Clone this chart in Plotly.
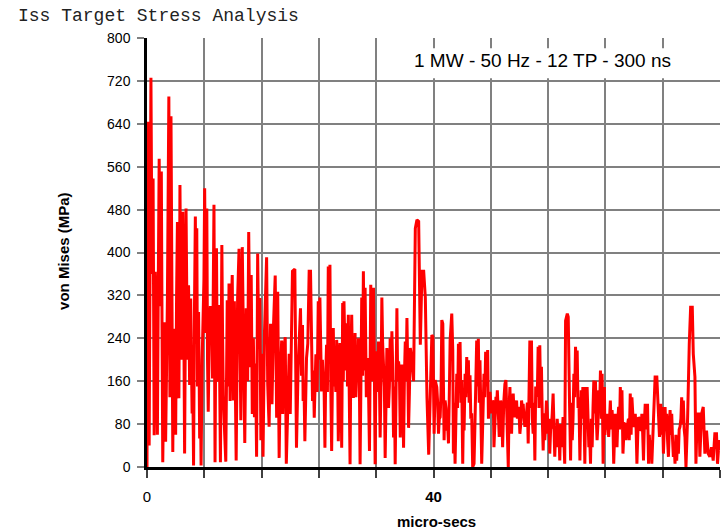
import plotly.graph_objects as go

# ---- data (micro-secs, von Mises MPa) ----
tA = [0.00,0.05,0.10,0.20,0.30,0.55,0.70,0.85,1.00,1.15,1.30,1.45,1.70,1.85,2.00,2.20,2.45,2.60,2.85,3.05,
      3.20,3.35,3.60,3.80,4.00,4.25,4.45,4.60,4.80,5.00,5.25,5.45,5.65,5.80,5.95,6.10,6.30,6.50,6.75,6.95,
      7.05,7.20,7.35,7.55,7.85,8.05,8.20,8.35,8.55,8.70,9.00,9.15,9.35,9.50,9.70,9.85,10.05,10.25,10.45,10.65]
vA = [0,400,60,644,40,726,360,538,59,364,264,60,575,300,551,9,270,47,314,691,
      130,654,28,258,60,457,128,526,200,476,25,482,200,339,153,314,100,3,467,445,
      150,289,53,3,270,520,250,482,103,258,240,165,489,9,408,159,302,9,414,134]
# mid-band samples of the first 10 us
tA2 = [1.08,1.38,1.58,1.93,2.10,2.33,2.53,2.73,3.13,3.48,3.70,3.90,4.13,4.35,4.53,4.70,4.90,5.13,5.35,5.55,
       5.73,5.88,6.03,6.20,6.40,6.63,6.85,7.13,7.28,7.45,7.70,7.95,8.13,8.28,8.45,8.63,8.85,9.08,9.25,9.43,
       9.60,9.78,9.95,10.15,10.35,10.55]
vA2 = [200,180,350,420,260,150,200,180,300,250,200,160,320,250,300,350,260,300,250,330,
       280,240,230,200,150,300,260,230,180,150,200,350,350,300,200,180,300,240,300,220,
       250,240,200,160,200,250]

tB = [10.85,11.00,11.20,11.35,11.45,11.60,11.75,11.90,12.05,12.20,12.45,12.65,12.85,13.00,13.10,13.30,13.45,13.65,13.85,14.05,
      14.20,14.40,14.55,14.70,14.85,15.00,15.15,15.30,15.45,15.60,15.75,15.90,16.05,16.20,16.40,16.70,16.85,17.05,17.25,17.45,
      17.65,17.90,18.10,18.25,18.45,18.60,18.80,18.95,19.10,19.30,19.45,19.65,19.85,20.00,20.20]
vB = [60,10,311,150,342,123,280,358,124,309,12,315,407,249,87,410,200,45,296,160,
      438,186,358,99,240,93,193,19,398,220,315,50,211,19,250,391,155,75,267,117,
      259,357,92,327,17,160,236,99,216,242,6,129,211,99,280]

tC = [20.31,20.64,20.87,21.10,21.43,21.71,21.80,22.04,22.27,22.64,22.83,23.11,23.35,23.58,23.91,24.14,24.37,24.61,24.84,25.07,
      25.31,25.54,25.78,26.01,26.24,26.48,26.71,26.94,27.18,27.32,27.50,27.88,28.11,28.35,28.58,28.81,29.05,29.28,29.51,29.75,
      29.98,30.21,30.45,30.78,31.06,31.24,31.62,31.85,32.08,32.32,32.55,32.79,33.02,33.25,33.49,33.72,33.95,34.19,34.42,34.65,
      34.89,35.12,35.36,35.59,35.82,36.06,36.29,36.52,36.76,37.22,37.46,37.69,37.93,38.16,38.39,38.63,38.86,39.09,39.33,39.56]
vC = [365,369,36,185,296,265,123,48,203,365,365,123,92,210,309,316,141,147,36,228,
      374,377,30,259,191,237,48,231,36,306,309,268,284,5,284,129,250,179,240,5,
      316,365,334,203,30,340,334,5,216,234,55,316,185,17,222,110,240,253,55,5,
      296,197,55,191,36,234,278,73,222,160,445,461,458,228,365,365,316,129,23,154]
# mid-band samples between 21.5 and 37 us
tC2 = [21.57,21.92,22.15,22.45,22.97,23.23,23.46,23.75,24.02,24.25,24.49,24.72,24.95,25.19,25.42,25.66,25.90,26.12,26.36,26.60,
       26.82,27.06,27.41,27.69,27.99,28.23,28.46,28.70,28.93,29.16,29.40,29.63,29.87,30.10,30.33,30.62,30.92,31.15,31.43,31.73,
       31.96,32.20,32.44,32.67,32.90,33.14,33.37,33.60,33.84,34.07,34.30,34.54,34.77,35.00,35.24,35.47,35.71,35.94,36.17,36.41,
       36.64,36.99]
vC2 = [170,150,120,230,200,180,150,140,200,230,200,150,170,140,200,150,180,150,140,200,
       130,200,160,180,150,180,200,170,160,130,160,190,160,170,180,130,150,180,160,200,
       180,140,170,160,230,150,130,190,150,160,190,150,140,160,180,150,140,170,160,180,
       140,200]

tD = [39.77,39.91,40.09,40.23,40.46,40.70,40.93,41.16,41.30,41.48,41.62,41.86,42.09,42.32,42.55,42.69,42.78,43.01,43.25,43.48,
      43.71,43.94,44.08,44.27,44.41,44.64,44.87,45.10,45.33,45.47,45.66,45.80,46.03,46.26,46.49,46.73,46.86,47.05,47.28,47.56,
      47.79,47.98,48.26,48.44,48.72,48.91,49.18,49.37,49.65,49.97,50.11,50.30,50.44,50.67,50.90,51.13,51.36,51.60,51.83,52.06,
      52.29,52.52,52.76,52.99,53.22,53.45,53.68,53.91,54.15,54.38,54.61,54.84,55.07,55.31,55.54,55.77,56.00,56.23,56.47,56.70,
      56.93,57.16,57.39,57.63,57.86,58.09,58.32]
vD = [246,243,62,162,149,62,93,274,267,50,124,68,44,236,286,218,25,6,174,230,
      233,162,6,68,174,205,199,171,100,0,6,87,236,239,199,6,62,174,215,218,
      112,124,124,37,131,143,56,124,37,155,162,37,0,149,62,137,93,124,112,62,
      124,118,75,100,44,236,236,62,12,131,224,227,187,31,50,124,62,25,75,137,
      19,37,62,12,37,93,6]
# mid-band samples between 40 and 58 us
tD2 = [40.16,40.58,40.81,41.05,41.39,41.55,41.74,41.97,42.20,42.87,43.13,43.36,43.60,43.83,44.18,44.52,44.75,44.98,45.21,45.90,
       46.14,46.38,46.95,47.16,47.42,47.67,47.89,48.12,48.35,48.58,48.81,49.05,49.27,49.51,49.81,50.20,50.55,50.78,51.02,51.25,
       51.48,51.71,51.95,52.18,52.41,52.64,52.87,53.10,53.34,53.57,53.80,54.03,54.27,54.50,54.73,54.96,55.19,55.42,55.66,55.89,
       56.12,56.35,56.58,56.81,57.04,57.27,57.51,57.74,57.97]
vD2 = [110,120,90,140,150,100,110,80,130,120,140,110,150,120,110,130,150,120,90,140,
       150,120,110,130,150,90,140,100,120,90,110,100,90,110,120,100,110,90,120,100,
       110,90,100,80,110,90,100,120,140,110,90,120,150,140,110,120,90,100,80,100,
       90,70,100,80,60,90,70,80,60]

tE = [58.44,58.68,58.81,59.00,59.14,59.37,59.60,59.83,60.06,60.30,60.44,60.62,60.85,60.99,61.13,61.27,61.45,61.69,61.92,62.15,
      62.38,62.61,62.84,63.07,63.31,63.54,63.68,63.86,64.00,64.23,64.46,64.69,64.93,65.16,65.39,65.62,65.85,66.08,66.31,66.45,
      66.64,66.87,67.10,67.33,67.47,67.70,67.94,68.17,68.40,68.63,68.86,69.09,69.32,69.56,69.88,70.02,70.25,70.48,70.71,70.94,
      71.18,71.31,71.55,71.73,71.96,72.10,72.33,72.56,72.80,73.03,73.26,73.49,73.72,73.95,74.19,74.42,74.65,74.88,75.11,75.25,
      75.48,75.71,75.90,76.13,76.27,76.50,76.64,76.82,77.06,77.19,77.43,77.66,77.89,78.12,78.35,78.58,78.81,79.05,79.28,79.51,
      79.65,79.88,79.97]
vE = [273,286,280,112,12,50,174,224,217,130,12,143,149,130,6,149,149,37,6,37,
      161,161,50,143,180,174,6,149,81,99,56,124,106,6,99,37,112,149,143,25,
      81,50,87,50,137,130,75,99,6,93,68,99,12,118,118,6,25,6,99,168,
      168,130,56,118,112,25,112,99,19,106,99,19,6,12,25,75,130,124,56,0,
      93,230,298,298,211,168,6,99,99,19,99,112,25,68,25,19,37,12,62,62,
      6,50,31]
# mid-band samples between 59 and 75 us
tE2 = [59.25,59.48,59.71,59.95,60.18,60.53,60.74,60.92,61.06,61.36,61.57,61.80,62.03,62.27,62.50,62.73,62.96,63.19,63.43,63.77,
       63.93,64.12,64.35,64.58,64.81,65.05,65.28,65.51,65.74,65.97,66.20,66.54,66.76,66.99,67.22,67.59,67.82,68.06,68.29,68.52,
       68.75,68.98,69.21,69.44,69.72,70.13,70.37,70.60,71.44,71.64,71.85,72.21,72.45,72.68,72.92,73.15,73.38,73.61,73.84,74.07,
       74.30,74.54,74.77,75.00]
vE2 = [120,90,130,160,110,80,100,90,60,100,80,60,90,110,100,90,80,110,90,100,
       60,70,80,90,70,80,60,80,90,70,100,60,80,70,90,60,100,80,70,60,
       90,70,60,80,70,60,50,60,90,70,60,80,70,50,70,60,50,40,60,50,
       70,90,80,70]

x_ticks = [0, 8, 16, 24, 32, 40, 48, 56, 64, 72, 80]
x_tick_text = ["0", "", "", "", "", "<b>40</b>", "", "", "", "", "<b>80</b>"]
y_ticks = [0, 80, 160, 240, 320, 400, 480, 560, 640, 720, 800]

title_text = "Iss Target Stress Analysis"
box_text = "1 MW - 50 Hz - 12 TP - 300 ns"
x_title = "micro-secs"
y_title = "von Mises (MPa)"

all_t = tA + tA2 + tB + tC + tC2 + tD + tD2 + tE + tE2
all_v = vA + vA2 + vB + vC + vC2 + vD + vD2 + vE + vE2
assert len(all_t) == len(all_v)
pairs = sorted(zip(all_t, all_v))
time_us = [p[0] for p in pairs]
stress = [p[1] for p in pairs]

fig = go.Figure()
fig.add_trace(go.Scatter(x=time_us, y=stress, mode="lines",
                         line=dict(color="#ff0000", width=3.0),
                         hoverinfo="skip", showlegend=False))

grid = "#808080"
fig.update_layout(
    width=724, height=532,
    margin=dict(l=147, r=4, t=38, b=65),
    paper_bgcolor="white", plot_bgcolor="white",
    font=dict(family="Liberation Sans, Arial, sans-serif", color="black"),
    xaxis=dict(range=[0, 80], tickmode="array", tickvals=x_ticks, ticktext=x_tick_text,
               showgrid=True, gridcolor=grid, gridwidth=1.5, zeroline=False,
               showline=True, linecolor="black", linewidth=3,
               ticks="outside", ticklen=8, tickwidth=1.5, tickcolor="#404040",
               tickfont=dict(size=15, color="black"), ticklabelstandoff=6),
    yaxis=dict(range=[0, 800], tickmode="array", tickvals=y_ticks,
               showgrid=True, gridcolor=grid, gridwidth=1.5, zeroline=False,
               showline=True, linecolor="black", linewidth=2.5,
               ticks="outside", ticklen=7, tickwidth=1.5, tickcolor=grid,
               tickfont=dict(size=14, color="black"), ticklabelstandoff=4),
)

# white box behind the condition text
fig.add_shape(type="rect", xref="x", yref="y", x0=32.15, x1=78.4, y0=725, y1=781,
              fillcolor="white", line=dict(width=0), layer="above")

fig.add_annotation(text=box_text, xref="paper", yref="paper", x=0.6898, y=0.9487,
                   xanchor="center", yanchor="middle", showarrow=False,
                   font=dict(size=19, color="black", family="Liberation Sans, Arial, sans-serif"))
fig.add_annotation(text=title_text, xref="paper", yref="paper", x=-0.2288, y=1.052,
                   xanchor="left", yanchor="middle", showarrow=False,
                   font=dict(size=18, color="#222222", family="Liberation Mono, Courier New, monospace"))
fig.add_annotation(text="<b>" + x_title + "</b>", xref="paper", yref="paper", x=0.5047, y=-0.128,
                   xanchor="center", yanchor="middle", showarrow=False,
                   font=dict(size=15, color="black"))
fig.add_annotation(text="<b>" + y_title + "</b>", xref="paper", yref="paper", x=-0.145, y=0.5035,
                   xanchor="center", yanchor="middle", showarrow=False, textangle=-90,
                   font=dict(size=15, color="black"))

fig.write_html("out.html")
